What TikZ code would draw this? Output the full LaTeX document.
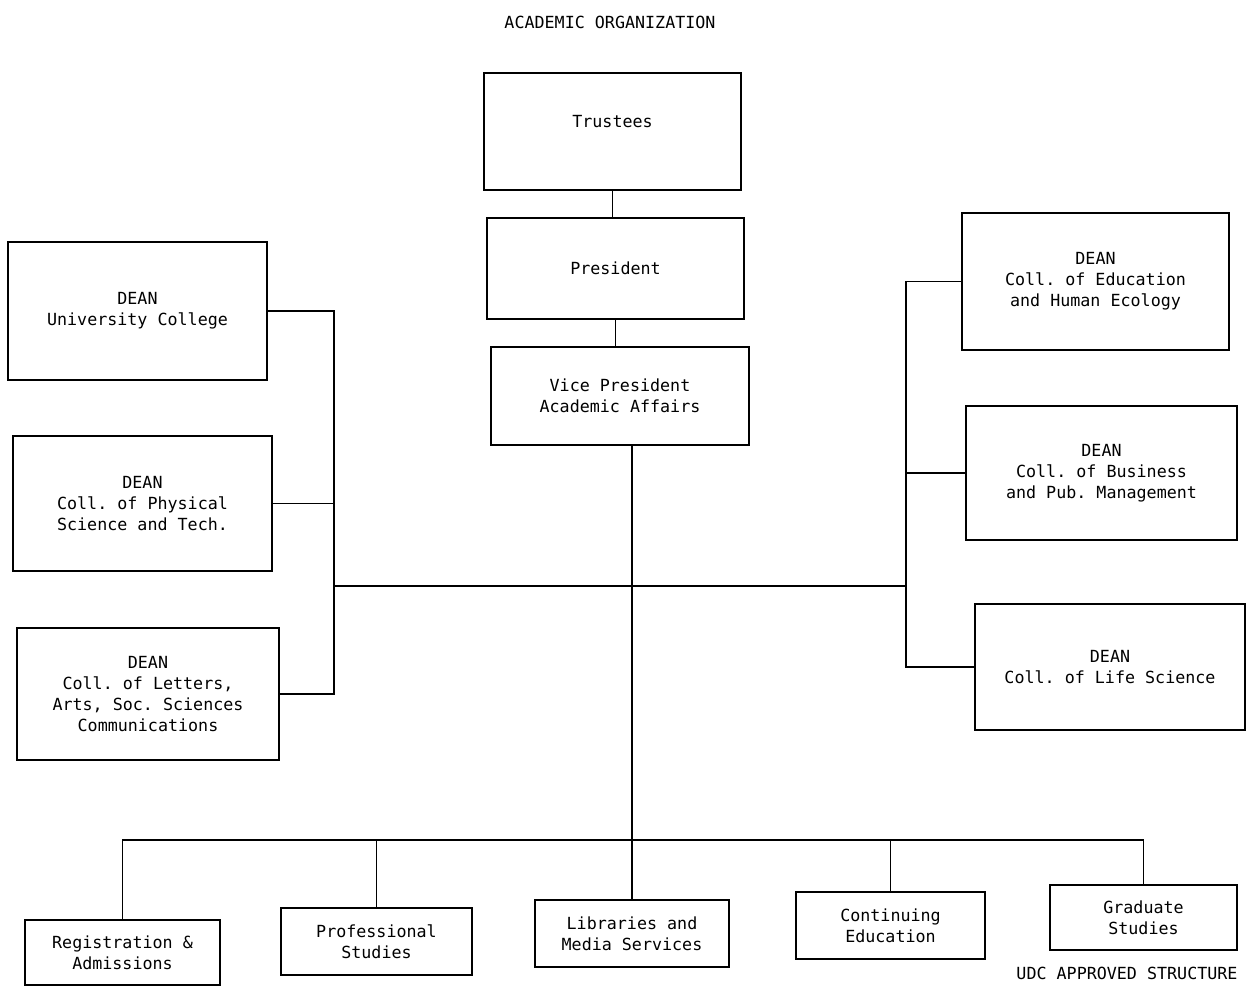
\documentclass[tikz,border=0pt]{standalone}
\usepackage{fontspec}
\newfontfamily\tw{DejaVu Sans Mono}
\frenchspacing
\begin{document}
\begin{tikzpicture}[x=0.02cm,y=-0.02cm,
  box/.style={draw, line width=1pt, align=center, inner sep=2pt,
    font=\tw\fontsize{9.5}{12}\selectfont\frenchspacing},
  conn/.style={line width=1pt},
  lbl/.style={font=\tw\fontsize{9.5}{12}\selectfont, inner sep=0pt}]
\useasboundingbox (0,0) rectangle (1252,993);
\node[lbl] (title) at (610,22) {ACADEMIC ORGANIZATION};
% central column
\node[box, minimum width=5.14cm, minimum height=2.34cm] (trustees) at (612.5,131.5) {Trustees\\[0pt]};
\node[box, minimum width=5.14cm, minimum height=2.02cm] (president) at (615.5,268.5) {President};
\node[box, minimum width=5.16cm, minimum height=1.96cm] (vp) at (620,396) {Vice President\\Academic Affairs};
% left deans
\node[box, minimum width=5.18cm, minimum height=2.76cm] (uc) at (137.5,311) {DEAN\\University College};
\node[box, minimum width=5.18cm, minimum height=2.70cm] (phys) at (142.5,503.5) {DEAN\\Coll. of Physical\\Science and Tech.};
\node[box, minimum width=5.24cm, minimum height=2.64cm] (lett) at (148,694) {DEAN\\Coll. of Letters,\\Arts, Soc. Sciences\\Communications};
% right deans
\node[box, minimum width=5.34cm, minimum height=2.74cm] (edu) at (1095.5,281.5) {DEAN\\Coll. of Education\\and Human Ecology};
\node[box, minimum width=5.42cm, minimum height=2.68cm] (bus) at (1101.5,473) {DEAN\\Coll. of Business\\and Pub. Management};
\node[box, minimum width=5.40cm, minimum height=2.52cm] (life) at (1110,667) {DEAN\\Coll. of Life Science};
% bottom row
\node[box, minimum width=3.90cm, minimum height=1.30cm] (reg) at (122.5,952.5) {Registration \&\\Admissions};
\node[box, minimum width=3.82cm, minimum height=1.34cm] (prof) at (376.5,941.5) {Professional\\Studies};
\node[box, minimum width=3.88cm, minimum height=1.34cm] (lib) at (632,933.5) {Libraries and\\Media Services};
\node[box, minimum width=3.78cm, minimum height=1.34cm] (cont) at (890.5,925.5) {Continuing\\Education};
\node[box, minimum width=3.74cm, minimum height=1.30cm] (grad) at (1143.5,917.5) {Graduate\\Studies};
\node[lbl] (note) at (1127,973) {UDC APPROVED STRUCTURE};
% bus coordinates
\coordinate (lb) at (334,0);
\coordinate (rb) at (906,0);
\coordinate (mid) at (0,586);
\coordinate (bb) at (0,840);
% connectors
\draw[conn] (trustees.south) -- (trustees.south |- president.north);
\draw[conn] (president.south) -- (president.south |- vp.north);
\draw[conn] (vp.south -| lib.north) -- (lib.north);
\draw[conn] (lb |- mid) -- (rb |- mid);
\draw[conn] (uc.east) -- (uc.east -| lb) -- (lett.east -| lb) -- (lett.east);
\draw[conn] (phys.east) -- (phys.east -| lb);
\draw[conn] (edu.west) -- (edu.west -| rb) -- (life.west -| rb) -- (life.west);
\draw[conn] (bus.west) -- (bus.west -| rb);
\draw[conn] (reg.north) -- (reg.north |- bb) -- (grad.north |- bb) -- (grad.north);
\draw[conn] (prof.north) -- (prof.north |- bb);
\draw[conn] (cont.north) -- (cont.north |- bb);
\end{tikzpicture}
\end{document}
